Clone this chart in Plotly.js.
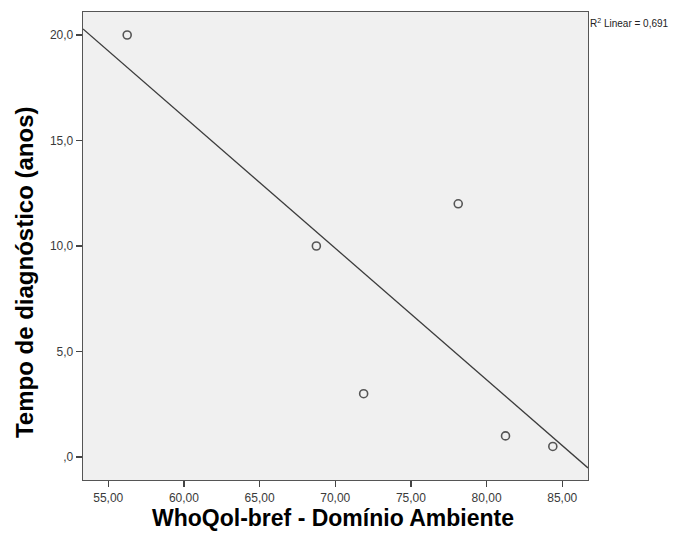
<!DOCTYPE html>
<html>
<head>
<meta charset="utf-8">
<script src="https://cdn.plot.ly/plotly-3.0.1.min.js"></script>
<style>body{margin:0;padding:0;background:#fff}#chart{width:678px;height:533px}</style>
</head>
<body>
<div id="chart"></div>
<script>
const ambiente = [56.25, 68.75, 71.875, 78.125, 81.25, 84.375];
const tempoDiag = [20, 10, 3, 12, 1, 0.5];
const xTickVals = [55, 60, 65, 70, 75, 80, 85];
const xTickText = ["55,00", "60,00", "65,00", "70,00", "75,00", "80,00", "85,00"];
const yTickVals = [0, 5, 10, 15, 20];
const yTickText = [",0", "5,0", "10,0", "15,0", "20,0"];
const xTitle = 'WhoQol-bref - Domínio Ambiente';
const yTitle = 'Tempo de diagnóstico (anos)';
const xRange = [53.33, 86.7];
const yRange = [-1.09, 21.09];

// least-squares fit line
const n = ambiente.length;
const mx = ambiente.reduce((a, b) => a + b, 0) / n;
const my = tempoDiag.reduce((a, b) => a + b, 0) / n;
let sxy = 0, sxx = 0, syy = 0;
for (let i = 0; i < n; i++) {
  sxy += (ambiente[i] - mx) * (tempoDiag[i] - my);
  sxx += (ambiente[i] - mx) ** 2;
  syy += (tempoDiag[i] - my) ** 2;
}
const slope = sxy / sxx;
const intercept = my - slope * mx;
const r2 = (sxy * sxy) / (sxx * syy);
const fitX = xRange.slice();
const fitY = fitX.map(x => intercept + slope * x);

const data = [
  {
    x: fitX, y: fitY, type: 'scatter', mode: 'lines',
    line: {color: '#3c3c3c', width: 1.3}, hoverinfo: 'skip'
  },
  {
    x: ambiente, y: tempoDiag, type: 'scatter', mode: 'markers',
    marker: {symbol: 'circle-open', size: 8, color: '#555555', line: {width: 1.6, color: '#555555'}}
  }
];

const fam = 'Liberation Sans, Arial, sans-serif';
const tickFont = {family: fam, size: 12, color: '#3a3a3a'};

const layout = {
  width: 678, height: 533,
  margin: {l: 83, r: 90, t: 12, b: 53},
  paper_bgcolor: '#ffffff',
  plot_bgcolor: '#f0f0f0',
  showlegend: false,
  xaxis: {
    range: xRange, tickvals: xTickVals, ticktext: xTickText,
    ticks: 'outside', ticklen: 6, tickwidth: 1.3, tickcolor: '#444',
    showgrid: false, zeroline: false,
    showline: true, mirror: true, linecolor: '#555', linewidth: 1.3,
    tickfont: tickFont
  },
  yaxis: {
    range: yRange, tickvals: yTickVals, ticktext: yTickText,
    ticks: 'outside', ticklen: 6, tickwidth: 1.3, tickcolor: '#444',
    showgrid: false, zeroline: false,
    showline: true, mirror: true, linecolor: '#555', linewidth: 1.3,
    tickfont: tickFont
  },
  annotations: [
    {
      xref: 'paper', yref: 'paper', x: 1, y: 1, xanchor: 'left', yanchor: 'top',
      yshift: -3,
      text: 'R<sup>2</sup> Linear = ' + r2.toFixed(3).replace('.', ','),
      showarrow: false,
      font: {family: fam, size: 10, color: '#222'}
    },
    {
      xref: 'paper', yref: 'paper', x: 0.496, y: -0.0897, xanchor: 'center', yanchor: 'middle',
      yshift: 4,
      text: '<b>' + xTitle + '</b>', showarrow: false,
      font: {family: fam, size: 23, color: '#000'}
    },
    {
      xref: 'paper', yref: 'paper', x: -0.1168, y: 0.4444, xanchor: 'center', yanchor: 'middle',
      textangle: -90,
      text: '<b>' + yTitle + '</b>', showarrow: false,
      font: {family: fam, size: 24, color: '#000'}
    }
  ]
};

Plotly.newPlot('chart', data, layout, {displayModeBar: false, staticPlot: true});
</script>
</body>
</html>
